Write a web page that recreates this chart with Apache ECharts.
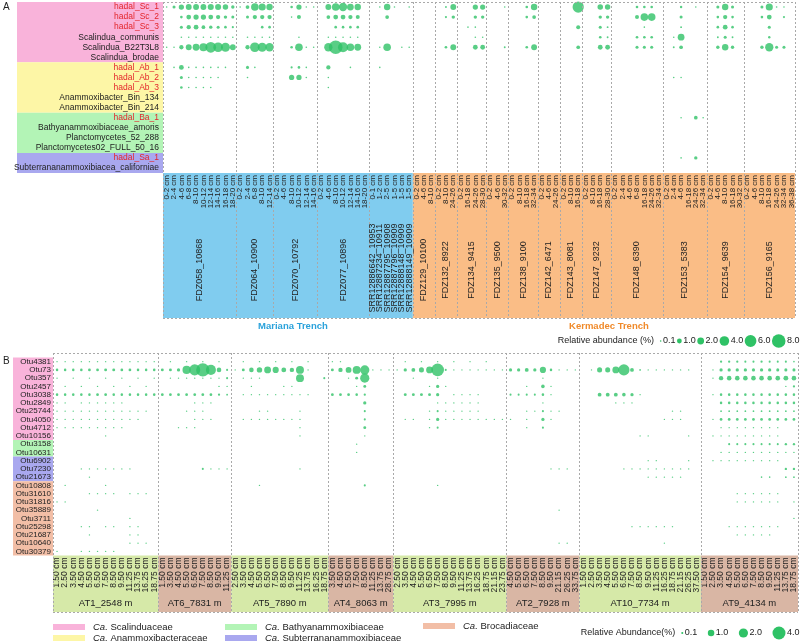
<!DOCTYPE html>
<html>
<head>
<meta charset="utf-8">
<script src="https://cdn.jsdelivr.net/npm/echarts/dist/echarts.min.js"></script>
<style>
html, body { margin: 0; padding: 0; background: #fff; }
#chart { width: 800px; height: 643px; }
</style>
</head>
<body>
<div id="chart"></div>
<script>
// ---------- panel A data ----------
const rowsA = ['hadal_Sc_1', 'hadal_Sc_2', 'hadal_Sc_3', 'Scalindua_communis', 'Scalindua_B22T3L8',
    'Scalindua_brodae', 'hadal_Ab_1', 'hadal_Ab_2', 'hadal_Ab_3', 'Anammoxibacter_Bin_134',
    'Anammoxibacter_Bin_214', 'hadal_Ba_1', 'Bathyanammoxibiaceae_amoris', 'Planctomycetes_52_288',
    'Planctomycetes02_FULL_50_16', 'hadal_Sa_1', 'Subterrananammoxibiacea_californiae'];
const familyA = [0, 0, 0, 0, 0, 0, 1, 1, 1, 1, 1, 2, 2, 2, 2, 3, 3];

const groupNamesA = ['FDZ058_10868', 'FDZ064_10900', 'FDZ070_10792', 'FDZ077_10896',
    ['SRR12886642_10953', 'SRR12887234_10911', 'SRR12887795_10908', 'SRR12887796_10909', 'SRR12888148_10909', 'SRR12888149_10909'],
    'FDZ129_10100', 'FDZ132_8922', 'FDZ134_9415', 'FDZ135_9500', 'FDZ138_9100', 'FDZ142_6471',
    'FDZ143_8081', 'FDZ147_9232', 'FDZ148_6390', 'FDZ153_5383', 'FDZ154_9639', 'FDZ156_9165'];
const groupDepthsA = [
    ['0-2', '2-4', '4-6', '6-8', '8-10', '10-12', '12-14', '14-16', '16-18', '18-20'],
    ['0-2', '2-4', '6-8', '8-10', '12-14'],
    ['0-2', '4-6', '8-10', '10-12', '12-14', '14-16'],
    ['0-2', '4-6', '8-10', '10-12', '12-14', '14-16', '18-20'],
    ['0-1', '1-2', '2-5', '1-5', '1-5', '1-5'],
    ['0-2', '4-6', '8-10'],
    ['0-2', '8-10', '24-26'],
    ['0-2', '16-18', '24-26', '28-30'],
    ['0-2', '4-6', '30-32'],
    ['0-2', '8-10', '16-18', '32-34'],
    ['0-2', '4-6', '24-26'],
    ['0-2', '8-10', '16-18'],
    ['0-2', '8-10', '16-18', '28-30'],
    ['0-2', '2-4', '4-6', '6-8', '16-18', '24-26', '32-34'],
    ['0-2', '2-4', '4-6', '16-18', '24-26', '32-34'],
    ['0-2', '4-6', '8-10', '16-18', '30-32'],
    ['0-2', '4-6', '8-10', '16-18', '24-26', '32-34', '36-38']
];
const trenchNames = ['Mariana Trench', 'Kermadec Trench'];
const trenchGroupCount = [5, 12];

// [column, relative abundance %] per row
const dotsA = [
    [[0, .08], [1, .4], [2, 1.2], [3, 1.5], [4, 1.5], [5, 1.5], [6, 1.6], [7, 1.6], [8, 1.3], [9, .5], [10, .08], [11, .6], [12, 2.5], [13, 2.2], [14, 1.8], [17, .3], [18, 1.2], [19, .08], [20, .08], [22, 1.5], [23, 2.5], [24, 3.0], [25, 2.0], [26, 1.8], [29, .1], [30, 1.8], [31, .05], [33, .05], [38, .15], [39, 1.5], [42, 1.2], [43, 1.2], [46, .1], [49, .3], [50, 1.8], [56, 5.5], [59, 1.3], [60, 1.3], [64, .3], [65, .3], [66, .3], [70, .25], [72, .08], [75, .4], [76, 1.8], [77, .4], [81, .4], [82, 2.2], [83, .1], [84, .1]],
    [[2, .3], [3, 1.0], [4, 1.2], [5, 1.2], [6, 1.0], [7, .8], [8, .5], [9, .4], [11, .4], [12, .8], [13, .8], [14, .8], [17, .08], [18, .7], [22, .6], [23, 1.0], [24, 1.0], [25, .8], [26, .7], [30, .6], [38, .2], [39, .5], [42, .5], [43, .5], [49, .3], [50, .6], [59, .5], [60, .5], [64, .7], [65, 2.5], [66, 2.5], [70, .4], [75, .3], [76, .8], [77, .3], [81, .3], [82, 1.0], [84, .2]],
    [[2, .4], [3, .8], [4, 1.0], [5, .6], [6, .5], [7, .4], [8, .3], [9, .2], [13, .3], [14, .3], [23, .3], [24, .3], [25, .3], [26, .3], [41, .05], [42, .05], [56, .7], [59, .4], [60, .15], [65, .05], [70, .15], [75, .3], [76, 1.0], [77, .3], [82, .4]],
    [[2, .08], [3, .08], [4, .08], [5, .08], [6, .08], [7, .08], [8, .08], [9, .08], [11, .08], [12, .1], [13, .1], [14, .1], [18, .1], [22, .1], [23, .1], [24, .1], [25, .1], [26, .1], [42, .05], [43, .08], [59, .3], [60, .15], [64, .3], [65, .3], [66, .3], [69, .1], [70, 2.0], [75, .15], [76, .4], [77, .15], [82, .25]],
    [[0, .05], [1, .1], [2, .8], [3, 1.5], [4, 2.0], [5, 2.8], [6, 5.0], [7, 4.0], [8, 3.5], [9, 1.5], [11, .8], [12, 4.0], [13, 3.5], [14, 3.0], [17, .3], [18, 2.5], [19, .08], [20, .08], [22, 3.0], [23, 8.0], [24, 4.5], [25, 2.5], [26, 2.0], [29, .08], [30, 2.5], [32, .05], [33, .05], [38, .3], [39, 1.5], [42, 1.0], [43, 1.0], [46, .15], [49, .3], [50, 1.5], [56, .6], [59, 1.0], [60, 1.0], [64, .4], [65, .4], [66, .4], [69, .15], [70, .6], [75, .5], [76, 1.8], [77, .5], [81, .5], [82, 3.0], [83, .4], [84, .4]],
    [],
    [[1, .05], [2, 1.0], [3, .08], [4, .08], [5, .08], [6, .08], [7, .08], [8, .08], [11, .4], [12, .1], [17, .2], [18, .3], [19, .08], [22, .8], [25, .05], [29, .05]],
    [[2, .4], [3, .08], [4, .08], [5, .08], [6, .08], [7, .08], [11, .05], [17, 1.2], [18, 1.2], [19, .08], [22, .1], [69, .05], [70, .05]],
    [[2, .3], [3, .08], [4, .08], [5, .08], [6, .08], [22, .1]],
    [],
    [],
    [[70, .05], [72, .6], [73, .05]],
    [],
    [],
    [],
    [[70, .05], [72, .5]],
    []
];
const legendValuesA = [0.1, 1.0, 2.0, 4.0, 6.0, 8.0];

// ---------- panel B data ----------
const rowsB = ['Otu4381', 'Otu73', 'Otu357', 'Otu2457', 'Otu3038', 'Otu2849', 'Otu25744', 'Otu4050',
    'Otu4712', 'Otu10156', 'Otu3158', 'Otu10631', 'Otu6902', 'Otu7230', 'Otu21673', 'Otu10808',
    'Otu31610', 'Otu31816', 'Otu35889', 'Otu3711', 'Otu25298', 'Otu21687', 'Otu10640', 'Otu30379'];
const familyB = [0, 0, 0, 0, 0, 0, 0, 0, 0, 0, 2, 2, 3, 3, 3, 4, 4, 4, 4, 4, 4, 4, 4, 4];

const groupNamesB = ['AT1_2548 m', 'AT6_7831 m', 'AT5_7890 m', 'AT4_8063 m', 'AT3_7995 m', 'AT2_7928 m', 'AT10_7734 m', 'AT9_4134 m'];
const groupDepthsB = [
    ['1.50', '2.50', '3.50', '4.50', '5.50', '6.50', '7.50', '8.50', '9.50', '11.25', '13.75', '16.25', '18.75'],
    ['1.50', '3.50', '4.50', '5.50', '6.50', '7.50', '8.50', '9.50', '11.25'],
    ['2.50', '3.50', '4.50', '5.50', '6.50', '7.50', '8.50', '9.50', '11.25', '13.75', '16.25', '18.75'],
    ['3.50', '4.50', '5.50', '7.50', '8.50', '11.25', '13.75', '28.75'],
    ['2.50', '3.50', '4.50', '5.50', '6.50', '7.50', '8.50', '9.50', '11.25', '13.75', '16.25', '18.75', '21.15', '23.75'],
    ['4.50', '5.50', '6.50', '7.50', '8.50', '9.50', '21.15', '26.25', '33.75'],
    ['1.50', '2.50', '3.50', '4.50', '5.50', '6.50', '7.50', '8.50', '9.50', '11.25', '16.25', '18.75', '21.15', '26.25', '37.50'],
    ['1.50', '2.50', '3.50', '4.50', '5.50', '6.50', '7.50', '8.50', '9.50', '11.25', '13.75', '18.75']
];

const dotsB = [
    [[0, .03], [1, .03], [2, .03], [3, .03], [4, .03], [5, .03], [6, .03], [7, .03], [8, .03], [9, .03], [10, .03], [11, .03], [12, .03], [14, .02], [16, .02], [18, .02], [20, .02], [23, .02], [25, .02], [27, .02], [29, .02], [31, .02], [34, .02], [35, .02], [43, .02], [45, .02], [47, .02], [49, .02], [51, .02], [53, .02], [82, .12], [83, .12], [84, .12], [85, .1], [86, .1], [87, .12], [88, .1], [89, .1], [90, .1], [91, .06]],
    [[0, .15], [1, .15], [2, .15], [3, .15], [4, .18], [5, .18], [6, .2], [7, .2], [8, .18], [9, .18], [10, .15], [11, .15], [12, .15],
     [13, .2], [14, .2], [15, .25], [16, 1.6], [17, 2.9], [18, 4.2], [19, 2.4], [20, .5], [21, .1],
     [22, .04], [23, .2], [24, .5], [25, .7], [26, 1.1], [27, .9], [28, .55], [29, .45], [30, 1.5], [31, .03],
     [34, .2], [35, .45], [36, .8], [37, 1.5], [38, 2.0], [39, .03], [40, .04], [41, .03],
     [42, .03], [43, .25], [44, .35], [45, .6], [46, 1.1], [47, 3.8], [48, .1], [49, .04], [50, .04], [51, .04], [52, .04], [53, .04], [54, .04], [55, .04],
     [56, .25], [57, .25], [58, .35], [59, .25], [60, .9], [61, .15], [62, .04], [63, .04], [64, .03],
     [66, .04], [67, .6], [68, .6], [69, 1.1], [70, 3.0], [71, .35], [72, .07], [73, .03], [74, .03], [75, .03], [76, .03], [77, .03], [78, .03],
     [81, .05], [82, .25], [83, .25], [84, .25], [85, .25], [86, .25], [87, .25], [88, .25], [89, .22], [90, .22], [91, .22]],
    [[0, .02], [2, .02], [4, .02], [6, .02], [8, .02], [10, .02], [12, .02], [14, .02], [15, .02], [16, .02], [17, .02], [18, .02], [19, .02], [20, .02], [21, .1], [23, .03], [24, .03], [25, .03], [30, 1.5], [33, .1], [36, .03], [37, .2], [38, 2.0], [44, .03], [47, .03], [60, .04], [81, .05], [82, .45], [83, .5], [84, .5], [85, .5], [86, .5], [87, .5], [88, .5], [89, .5], [90, .55], [91, .5]],
    [[1, .02], [3, .02], [5, .02], [7, .02], [9, .02], [11, .02], [20, .05], [21, .05], [24, .03], [28, .03], [29, .03], [37, .03], [38, .2], [46, .04], [47, .25], [48, .04], [58, .04], [60, .3], [61, .04], [90, .04], [91, .12]],
    [[0, .15], [1, .15], [2, .15], [3, .15], [4, .15], [5, .18], [6, .18], [7, .15], [8, .15], [9, .15], [10, .15], [11, .15], [12, .15],
     [13, .18], [14, .18], [15, .18], [16, .18], [17, .18], [18, .18], [19, .18], [20, .12], [21, .08],
     [23, .03], [24, .03], [25, .03], [26, .03], [27, .03], [28, .03], [29, .03], [30, .03], [31, .03],
     [34, .18], [35, .18], [36, .18], [37, .15], [38, .12],
     [43, .2], [44, .2], [45, .2], [46, .2], [47, .25], [49, .03], [50, .03], [51, .03], [52, .03],
     [56, .1], [57, .1], [58, .1], [59, .1], [60, .15], [61, .03],
     [67, .35], [68, .35], [69, .35], [70, .3], [71, .25], [72, .03],
     [81, .04], [82, .15], [83, .15], [84, .15], [85, .15], [86, .15], [87, .15], [88, .15], [89, .15], [90, .15], [91, .15]],
    [[0, .02], [1, .02], [3, .02], [4, .02], [5, .02], [6, .02], [7, .02], [8, .02], [17, .03], [18, .03], [19, .03], [38, .25], [47, .03], [48, .03], [49, .03], [50, .03], [51, .03], [52, .03], [60, .03], [69, .03], [70, .03], [71, .03], [82, .15], [83, .15], [84, .15], [85, .15], [86, .15], [87, .15], [88, .15], [89, .15], [90, .15], [91, .15]],
    [[0, .02], [1, .02], [2, .02], [3, .02], [4, .02], [5, .02], [6, .02], [7, .02], [8, .02], [9, .02], [10, .02], [11, .02], [16, .03], [17, .03], [18, .03], [25, .03], [26, .03], [30, .03], [38, .1], [46, .03], [47, .1], [48, .03], [49, .03], [50, .03], [51, .03], [52, .03], [58, .03], [59, .03], [60, .1], [61, .03], [62, .03], [76, .03], [77, .03], [82, .07], [83, .07], [84, .07], [85, .07], [86, .07], [87, .07], [88, .07], [89, .07], [90, .07], [91, .07]],
    [[0, .04], [1, .04], [2, .04], [3, .04], [4, .04], [5, .04], [6, .04], [7, .04], [8, .04], [9, .04], [10, .04], [17, .03], [18, .03], [19, .03], [23, .04], [24, .04], [25, .04], [26, .04], [27, .04], [28, .04], [29, .04], [30, .04], [38, .1], [43, .03], [44, .03], [46, .03], [47, .25], [48, .03], [49, .03], [50, .03], [51, .03], [52, .03], [53, .03], [54, .03], [55, .03], [56, .03], [58, .05], [60, .25], [61, .03], [75, .03], [76, .03], [77, .03], [81, .04], [82, .18], [83, .18], [84, .18], [85, .18], [86, .18], [87, .18], [88, .18], [89, .18], [90, .18], [91, .18]],
    [[0, .02], [1, .02], [2, .02], [3, .02], [4, .02], [5, .02], [6, .02], [7, .02], [8, .02], [15, .03], [16, .03], [17, .03], [30, .03], [38, .2], [46, .03], [47, .1], [58, .03], [60, .1], [82, .03], [83, .03], [84, .03], [85, .03], [86, .03], [87, .03], [88, .03], [89, .03]],
    [[6, .02], [30, .03], [38, .03], [72, .03], [73, .03], [78, .03], [81, .04], [82, .04], [83, .04], [84, .04], [85, .04], [86, .04], [87, .04], [88, .04], [89, .04]],
    [[37, .03], [83, .1], [84, .1], [85, .1], [86, .1], [87, .1], [88, .1], [89, .1], [90, .13], [91, .13]],
    [[37, .03], [82, .05], [83, .05], [84, .05], [85, .05], [86, .05], [87, .05], [88, .05], [89, .05], [90, .05], [91, .05]],
    [[73, .03], [74, .03], [78, .03], [81, .04], [82, .04], [83, .04], [84, .04], [85, .04], [86, .04], [87, .04], [88, .04], [89, .04]],
    [[3, .03], [4, .03], [5, .03], [6, .03], [7, .03], [8, .03], [9, .03], [18, .1], [19, .03], [20, .03], [21, .03], [30, .03], [61, .04], [62, .04], [63, .04], [70, .03], [71, .03], [72, .03], [73, .03], [74, .03], [75, .03], [76, .03], [77, .03], [78, .03], [90, .13], [91, .13]],
    [[4, .03], [73, .03], [74, .03], [75, .03], [76, .03], [77, .03], [87, .06], [88, .06], [90, .07], [91, .07]],
    [[1, .03], [6, .03], [25, .03], [38, .1], [47, .05]],
    [[4, .03], [5, .03], [6, .03], [7, .03], [9, .03], [10, .03], [11, .03], [84, .03], [85, .03], [86, .03], [87, .03], [88, .03], [89, .03]],
    [[0, .03], [1, .03], [84, .03], [85, .03], [86, .03], [87, .03], [88, .03], [89, .03], [91, .05]],
    [[5, .03], [62, .04]],
    [[9, .03], [91, .05]],
    [[3, .03], [4, .03], [6, .03], [7, .03], [9, .03], [10, .03], [71, .03], [72, .03], [73, .03], [74, .03], [75, .03], [76, .03], [83, .03], [84, .03], [85, .03], [86, .03], [87, .03], [88, .03], [89, .03]],
    [[4, .03], [9, .03], [10, .03], [84, .03], [85, .03], [86, .03], [87, .03], [88, .03]],
    [[9, .03], [10, .03], [11, .03], [62, .03], [63, .03], [75, .03]],
    [[0, .03], [3, .03], [4, .03], [5, .03], [6, .03], [7, .03]]
];
const legendValuesB = [0.1, 1.0, 2.0, 4.0];
const familyNames = ['Scalinduaceae', 'Anammoxibacteraceae', 'Bathyanammoxibiaceae', 'Subterrananammoxibiaceae', 'Brocadiaceae'];

// ---------- styles ----------
const FONT = 'Liberation Sans';
const DOT = '#2fc266';
const famColors = ['#f9b3da', '#fdf6a6', '#b3f4b6', '#a9a8ef', '#f2bea6'];
const trenchFill = ['#80ccef', '#fabd86'];
const trenchText = ['#2aa2db', '#f08a2a'];
const bandB = ['#d6e9a8', '#d9b6a4'];
const DASH = {stroke: '#a9a9a9', lineWidth: 1, lineDash: [2, 2]};

const sizeA = v => Math.max(1.6, 4.8 * Math.sqrt(v));
const sizeB = v => Math.max(1.4, 6.5 * Math.sqrt(v));

// categories (kept unique with a group prefix)
const catsA = [];
groupDepthsA.forEach((ds, gi) => ds.forEach((d, k) => catsA.push(gi + '_' + k + '|' + d)));
const catsB = [];
groupDepthsB.forEach((ds, gi) => ds.forEach((d, k) => catsB.push(gi + '_' + k + '|' + d)));

const dataA = [];
dotsA.forEach((row, r) => row.forEach(p => dataA.push([p[0], r, p[1]])));
const dataB = [];
dotsB.forEach((row, r) => row.forEach(p => dataB.push([p[0], r, p[1]])));

const chart = echarts.init(document.getElementById('chart'));

const hiddenAxis = {
    axisLine: {show: false},
    axisTick: {show: false},
    splitLine: {show: false}
};

chart.setOption({
    animation: false,
    textStyle: {fontFamily: FONT},
    grid: [
        {left: 163, top: 2, width: 632, height: 171},
        {left: 53, top: 357.5, width: 745, height: 198}
    ],
    xAxis: [
        Object.assign({
            type: 'category', gridIndex: 0, data: catsA,
            axisLabel: {
                rotate: 90, interval: 0, fontSize: 8, margin: 2, color: '#222',
                formatter: v => v.split('|')[1] + ' cm'
            }
        }, hiddenAxis),
        Object.assign({
            type: 'category', gridIndex: 1, data: catsB,
            axisLabel: {
                rotate: 90, interval: 0, fontSize: 8.5, margin: 2, color: '#222',
                formatter: v => v.split('|')[1] + ' cm'
            }
        }, hiddenAxis)
    ],
    yAxis: [
        Object.assign({
            type: 'category', gridIndex: 0, data: rowsA, inverse: true,
            axisLabel: {
                interval: 0, fontSize: 8.5, margin: 4,
                formatter: v => (v.indexOf('hadal_') === 0 ? '{r|' : '{k|') + v + '}',
                rich: {
                    r: {color: '#e3262c', fontSize: 8.5, fontFamily: FONT},
                    k: {color: '#222', fontSize: 8.5, fontFamily: FONT}
                }
            }
        }, hiddenAxis),
        Object.assign({
            type: 'category', gridIndex: 1, data: rowsB, inverse: true,
            axisLabel: {interval: 0, fontSize: 8, margin: 2, color: '#222'}
        }, hiddenAxis)
    ],
    series: [
        {
            type: 'scatter', xAxisIndex: 0, yAxisIndex: 0, data: dataA, silent: true,
            symbolSize: d => sizeA(d[2]),
            itemStyle: {color: DOT}
        },
        {
            type: 'scatter', xAxisIndex: 1, yAxisIndex: 1, data: dataB, silent: true,
            symbolSize: d => sizeB(d[2]),
            itemStyle: {color: DOT}
        }
    ]
});

// ---------- decorations placed with the axes' own scales ----------
function px(grid, c, r)
{
    return chart.convertToPixel({gridIndex: grid}, [c, r]);
}

function text(x, y, str, opt)
{
    return Object.assign({
        type: 'text', x: x, y: y, z: 10,
        style: Object.assign({
            text: str, fill: '#222', fontSize: 9, fontFamily: FONT,
            textAlign: 'left', textVerticalAlign: 'middle', verticalAlign: 'middle'
        }, opt || {})
    }, (opt && opt.rotation) ? {rotation: opt.rotation} : {});
}

function line(x1, y1, x2, y2)
{
    return {type: 'line', z: 5, silent: true, shape: {x1: x1, y1: y1, x2: x2, y2: y2}, style: DASH};
}

function rect(x, y, w, h, fill, z)
{
    return {type: 'rect', z: z === undefined ? -10 : z, silent: true, shape: {x: x, y: y, width: w, height: h}, style: {fill: fill}};
}

function familySpans(fam)
{
    const spans = [];
    fam.forEach((f, i) =>
    {
        if (spans.length && spans[spans.length - 1].f === f) spans[spans.length - 1].end = i;
        else spans.push({f: f, start: i, end: i});
    });
    return spans;
}

// size legend laid out right-to-left so it ends at xEnd
function sizeLegend(g, title, values, sizeFn, xEnd, y, gap)
{
    let w = 0;
    values.forEach(v => { w += sizeFn(v) + 1.5 + 13 + gap; });
    let x = xEnd - w + gap;
    g.push(text(x - 6, y, title, {fontSize: 9, textAlign: 'right'}));
    values.forEach(v =>
    {
        const s = sizeFn(v);
        g.push({type: 'circle', z: 10, shape: {cx: x + s / 2, cy: y, r: s / 2}, style: {fill: DOT}});
        g.push(text(x + s + 1.5, y, v.toFixed(1), {fontSize: 9}));
        x += s + 1.5 + 13 + gap;
    });
}

function decorations()
{
    const g = [];

    // ----- panel A -----
    const a0 = px(0, 0, 0);
    const colW = px(0, 1, 0)[0] - a0[0];
    const rowH = px(0, 0, 1)[1] - a0[1];
    const colLeft = c => px(0, c, 0)[0] - colW / 2;
    const rowTop = r => px(0, 0, r)[1] - rowH / 2;
    const nA = catsA.length;
    const bandTopA = rowTop(rowsA.length);
    const bandBotA = 318;

    familySpans(familyA).forEach(s =>
    {
        g.push(rect(17, rowTop(s.start), colLeft(0) - 17, rowTop(s.end + 1) - rowTop(s.start), famColors[s.f]));
    });

    // trench bands
    const startsA = [0];
    groupDepthsA.forEach(ds => startsA.push(startsA[startsA.length - 1] + ds.length));
    let gi = 0;
    trenchNames.forEach((t, ti) =>
    {
        const c0 = startsA[gi], c1 = startsA[gi + trenchGroupCount[ti]];
        g.push(rect(colLeft(c0), bandTopA, colLeft(c1) - colLeft(c0), bandBotA - bandTopA, trenchFill[ti]));
        g.push(text((colLeft(c0) + colLeft(c1)) / 2 + 5, 326, t, {
            fill: trenchText[ti], fontWeight: 'bold', fontSize: 9.5, textAlign: 'center'
        }));
        gi += trenchGroupCount[ti];
    });

    // sample names
    groupNamesA.forEach((name, i) =>
    {
        const c0 = startsA[i], c1 = startsA[i + 1];
        if (Array.isArray(name))
        {
            name.forEach((n, k) =>
            {
                g.push(text(px(0, c0 + k, 0)[0], 268, n, {fontSize: 9, textAlign: 'center', rotation: Math.PI / 2}));
            });
        }
        else
        {
            g.push(text((colLeft(c0) + colLeft(c1)) / 2, 270, name, {fontSize: 9, textAlign: 'center', rotation: Math.PI / 2}));
        }
    });

    // dashed separators
    const topA = a0[1] - rowH / 2;
    startsA.forEach(c =>
    {
        const x = Math.round(colLeft(c)) + 0.5;
        g.push(line(x, topA, x, bandBotA));
    });
    g.push(line(colLeft(0), topA + 0.5, colLeft(nA), topA + 0.5));
    g.push(line(colLeft(0), bandBotA + 0.5, colLeft(nA), bandBotA + 0.5));

    sizeLegend(g, 'Relative abundance (%)', legendValuesA, sizeA, 800, 341, 1);

    g.push(text(3, 7, 'A', {fontSize: 10}));

    // ----- panel B -----
    const b0 = px(1, 0, 0);
    const colWB = px(1, 1, 0)[0] - b0[0];
    const rowHB = px(1, 0, 1)[1] - b0[1];
    const colLeftB = c => px(1, c, 0)[0] - colWB / 2;
    const rowTopB = r => px(1, 0, r)[1] - rowHB / 2;
    const nB = catsB.length;
    const bandTopB = rowTopB(rowsB.length);
    const bandBotB = 612;
    const topB = 353;

    familySpans(familyB).forEach(s =>
    {
        g.push(rect(13, rowTopB(s.start), colLeftB(0) - 13, rowTopB(s.end + 1) - rowTopB(s.start), famColors[s.f]));
    });

    const startsB = [0];
    groupDepthsB.forEach(ds => startsB.push(startsB[startsB.length - 1] + ds.length));
    groupNamesB.forEach((name, i) =>
    {
        const x0 = colLeftB(startsB[i]), x1 = colLeftB(startsB[i + 1]);
        g.push(rect(x0, bandTopB, x1 - x0, bandBotB - bandTopB, bandB[i % 2]));
        g.push(text((x0 + x1) / 2, 603, name, {fontSize: 9.5, textAlign: 'center'}));
    });
    startsB.forEach(c =>
    {
        const x = Math.round(colLeftB(c)) + 0.5;
        g.push(line(x, topB, x, bandBotB));
    });
    g.push(line(colLeftB(0), topB + 0.5, colLeftB(nB), topB + 0.5));
    g.push(line(colLeftB(0), bandBotB + 0.5, colLeftB(nB), bandBotB + 0.5));

    g.push(text(3, 361, 'B', {fontSize: 10}));

    // family legend
    const famPos = [[53, 627], [53, 638], [225, 627], [225, 638], [423, 626]];
    familyNames.forEach((f, i) =>
    {
        const p = famPos[i];
        g.push(rect(p[0], p[1] - 3, 32, 6, famColors[i], 10));
        g.push(text(p[0] + 40, p[1], '{i|Ca.} ' + f, {
            fontSize: 9.5,
            rich: {i: {fontStyle: 'italic', fontSize: 9.5, fontFamily: FONT}}
        }));
    });

    sizeLegend(g, 'Relative Abundance(%)', legendValuesB, sizeB, 800, 633, 10);

    chart.setOption({graphic: {elements: g}});
}

decorations();
</script>
</body>
</html>
